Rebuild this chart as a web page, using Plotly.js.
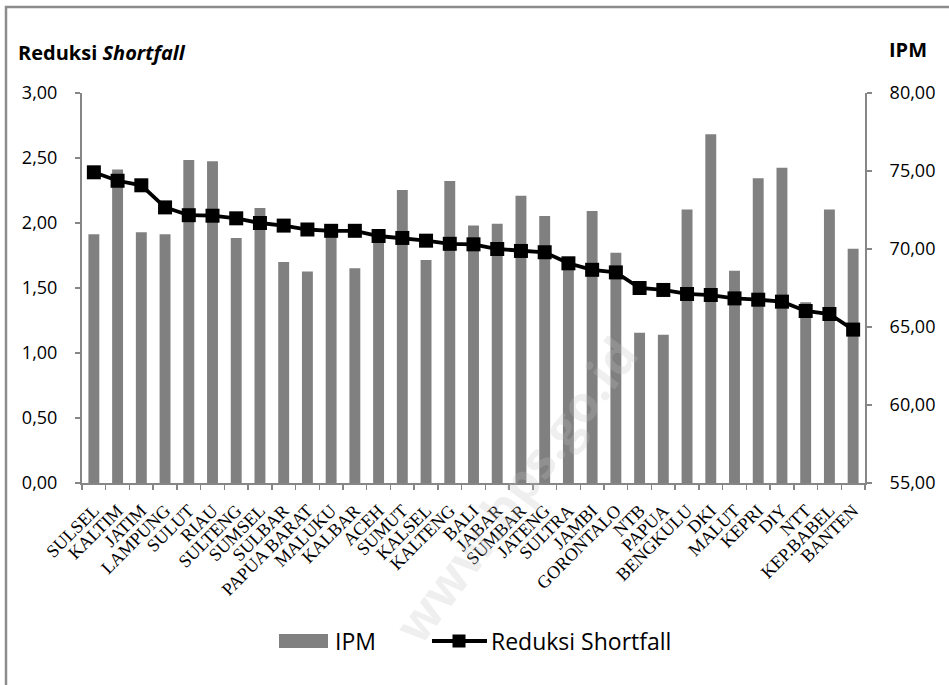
<!DOCTYPE html>
<html>
<head>
<meta charset="utf-8">
<script src="https://cdn.plot.ly/plotly-3.0.1.min.js"></script>
<style>html,body{margin:0;padding:0;background:#fff;}#chart{width:949px;height:685px;}</style>
</head>
<body>
<div id="chart"></div>
<script>
var provinces = ["SULSEL","KALTIM","JATIM","LAMPUNG","SULUT","RIAU","SULTENG","SUMSEL","SULBAR","PAPUA BARAT","MALUKU","KALBAR","ACEH","SUMUT","KALSEL","KALTENG","BALI","JABAR","SUMBAR","JATENG","SULTRA","JAMBI","GORONTALO","NTB","PAPUA","BENGKULU","DKI","MALUT","KEPRI","DIY","NTT","KEP.BABEL","BANTEN"];
var ipm = [70.94,75.10,71.07,70.94,75.70,75.62,70.70,72.63,69.17,68.55,71.00,68.76,70.80,73.78,69.29,74.36,71.50,71.62,73.42,72.12,69.00,72.44,69.76,64.63,64.50,72.54,77.35,68.61,74.53,75.21,66.58,72.54,70.02];
var reduksiShortfall = [2.39,2.325,2.29,2.12,2.06,2.056,2.036,2.00,1.98,1.95,1.94,1.94,1.90,1.885,1.864,1.84,1.836,1.80,1.785,1.775,1.69,1.64,1.62,1.50,1.485,1.454,1.446,1.42,1.41,1.395,1.323,1.30,1.18];
var leftTicks = [0,0.5,1,1.5,2,2.5,3];
var rightTicks = [55,60,65,70,75,80];
var seriesNames = ["IPM", "Reduksi Shortfall"];

var axisGray = "#868686";
var sans = "Open Sans, Noto Sans, sans-serif";

// pixel -> paper helpers (plot area: x 82..865, y 93..483)
function px(v){ return (v - 82) / 783; }
function py(v){ return (483 - v) / 390; }

var traces = [
  {
    type: "bar", name: seriesNames[0], x: provinces, y: ipm, yaxis: "y",
    marker: {color: "#808080"}
  },
  {
    type: "scatter", mode: "lines+markers", name: seriesNames[1],
    x: provinces, y: reduksiShortfall, yaxis: "y2",
    line: {color: "#000000", width: 3.8},
    marker: {symbol: "square", size: 14, color: "#000000"}
  }
];

var layout = {
  width: 949, height: 685,
  margin: {l: 82, r: 84, t: 93, b: 202},
  paper_bgcolor: "#ffffff", plot_bgcolor: "#ffffff",
  separators: ",.",
  bargap: 0.54,
  showlegend: false,
  font: {family: sans, color: "#000000", size: 18},
  xaxis: {
    type: "category", range: [-0.5, provinces.length - 0.5],
    showline: true, linecolor: axisGray, linewidth: 2,
    ticks: "outside", tickson: "boundaries", ticklen: 5, tickcolor: axisGray, tickwidth: 1.5,
    tickangle: -45, ticklabelstandoff: 8,
    tickfont: {family: "Liberation Serif, Times New Roman, serif", size: 18, color: "#000"},
    showgrid: false, zeroline: false, fixedrange: true
  },
  yaxis: {
    side: "right", range: [55, 80], tickvals: rightTicks, tickformat: ".2f",
    showline: true, linecolor: axisGray, linewidth: 2,
    ticks: "outside", ticklen: 5, tickcolor: axisGray, tickwidth: 1.5,
    ticklabelstandoff: 14,
    tickfont: {family: sans, size: 18, color: "#000"},
    showgrid: false, zeroline: false
  },
  yaxis2: {
    side: "left", overlaying: "y", range: [0, 3], tickvals: leftTicks, tickformat: ".2f",
    showline: true, linecolor: axisGray, linewidth: 2,
    ticks: "outside", ticklen: 5, tickcolor: axisGray, tickwidth: 1.5,
    ticklabelstandoff: 14,
    tickfont: {family: sans, size: 18, color: "#000"},
    showgrid: false, zeroline: false
  },
  shapes: [
    {type: "rect", xref: "paper", yref: "paper", x0: px(6), x1: 1.2, y0: -0.6, y1: py(7),
     line: {color: "#8c8c8c", width: 2.5}, fillcolor: "rgba(0,0,0,0)", layer: "below"},
    // legend: IPM swatch
    {type: "rect", xref: "paper", yref: "paper", x0: px(279), x1: px(328), y0: py(648), y1: py(634),
     line: {width: 0}, fillcolor: "#808080"},
    // legend: line with square marker
    {type: "line", xref: "paper", yref: "paper", x0: px(432), x1: px(487), y0: py(641), y1: py(641),
     line: {color: "#000", width: 3.8}},
    {type: "rect", xref: "paper", yref: "paper", x0: px(452.5), x1: px(465.5), y0: py(647.5), y1: py(634.5),
     line: {width: 0}, fillcolor: "#000"}
  ],
  annotations: [
    {xref: "paper", yref: "paper", x: px(16), y: py(53), xanchor: "left", yanchor: "middle",
     text: "<b>Reduksi <i>Shortfall</i></b>", showarrow: false,
     font: {family: sans, size: 20, color: "#000"}},
    {xref: "paper", yref: "paper", x: px(887), y: py(50), xanchor: "left", yanchor: "middle",
     text: "<b>IPM</b>", showarrow: false,
     font: {family: sans, size: 20, color: "#000"}},
    {xref: "paper", yref: "paper", x: px(333), y: py(641), xanchor: "left", yanchor: "middle",
     text: seriesNames[0], showarrow: false,
     font: {family: sans, size: 23, color: "#000"}},
    {xref: "paper", yref: "paper", x: px(489), y: py(641), xanchor: "left", yanchor: "middle",
     text: seriesNames[1], showarrow: false,
     font: {family: sans, size: 23, color: "#000"}},
    {xref: "paper", yref: "paper", x: px(515), y: py(490), xanchor: "center", yanchor: "middle",
     text: "<b>www.bps.go.id</b>", showarrow: false, textangle: -53,
     font: {family: sans, size: 50, color: "rgba(190,190,190,0.25)"}}
  ]
};

Plotly.newPlot("chart", traces, layout, {displayModeBar: false, staticPlot: true});
</script>
</body>
</html>
